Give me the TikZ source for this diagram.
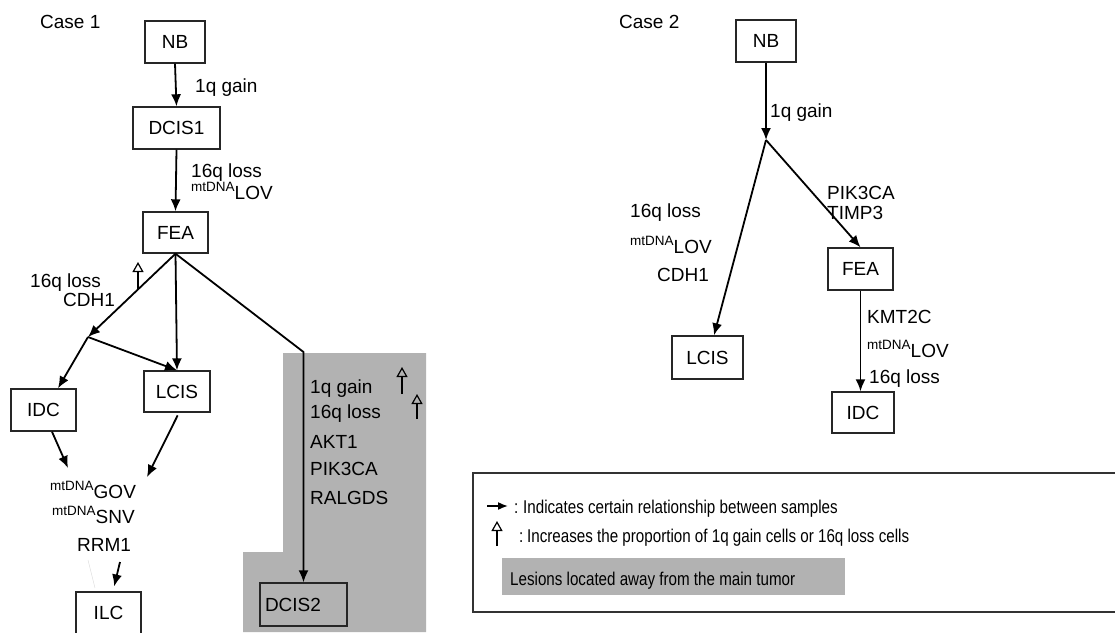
\documentclass[tikz,border=0pt]{standalone}
\usepackage{fontspec}
\setmainfont{Liberation Sans}
\newfontfamily\legfont{Liberation Sans}[FakeStretch=0.82]
\usetikzlibrary{arrows.meta,calc}
\newcommand\mtsup[1]{\raisebox{0.42em}{\fontsize{13.5}{13.5}\selectfont mtDNA}#1}
\begin{document}
\begin{tikzpicture}[x=1pt,y=-1pt,
  box/.style={draw=black!85, line width=1.4pt, minimum height=42pt, inner sep=0pt, font=\fontsize{19}{19}\selectfont},
  lab/.style={inner sep=0pt, anchor=base west, font=\fontsize{19}{19}\selectfont},
  arr/.style={line width=1.8pt, -{Latex[length=12pt,width=10pt]}},
  uparr/.style={line width=1.2pt, -{Triangle[open,length=10pt,width=11pt,line width=1.2pt]}},
  leg/.style={inner sep=0pt, anchor=base west, font=\legfont\fontsize{18.5}{18.5}\selectfont},
  grayzone/.style={fill=black!30}]
\useasboundingbox (0,0) rectangle (1115,632);

% ---------- Case 1 ----------
\fill[grayzone] (283,353) -- (426,353) -- (426,632) -- (243,632) -- (243,552) -- (283,552) -- cycle;

\node[lab] (case1) at (40,28) {Case 1};
\node[box, minimum width=60pt] (NB1) at (175,42) {NB};
\node[box, minimum width=87pt] (DCIS1) at (176.5,128) {DCIS1};
\node[box, minimum width=65pt, minimum height=41pt] (FEA1) at (175.5,232.5) {FEA};
\node[box, minimum width=65pt] (IDC1) at (43.5,410) {IDC};
\node[box, minimum width=66pt, minimum height=41pt] (LCIS1) at (177,391.5) {LCIS};
\node[box, minimum width=65pt] (ILC1) at (108.5,613) {ILC};
\node[box, minimum width=87pt, minimum height=43pt, inner xsep=5pt, text width=77pt, align=left] (DCIS2) at (303.5,604.5) {DCIS2};

\node[lab] (l1) at (195,92) {1q gain};
\node[lab] (l2) at (191,177) {16q loss};
\node[lab] (l3) at (191,199) {\mtsup{LOV}};
\node[lab] (l4) at (30,287) {16q loss};
\node[lab] (l5) at (63,306) {CDH1};
\node[lab] (l6) at (50,498) {\mtsup{GOV}};
\node[lab] (l7) at (52,523) {\mtsup{SNV}};
\node[lab] (l8) at (77,551) {RRM1};
\node[lab] (g1) at (310,393) {1q gain};
\node[lab] (g2) at (310,418) {16q loss};
\node[lab] (g3) at (310,448) {AKT1};
\node[lab] (g4) at (310,475) {PIK3CA};
\node[lab] (g5) at (310,504) {RALGDS};

\coordinate (J1) at (88,337);
\coordinate (K1) at (303.5,352);
\coordinate (e1) at (68,468);
\coordinate (e2) at (147,477);
\coordinate (r1) at (120,562);
\draw[arr] (NB1.south) -- (DCIS1.north);
\draw[arr] (DCIS1.south) -- (FEA1.north);
\draw[arr] (FEA1.south) -- (J1);
\draw[arr] (J1) -- ([xshift=14.5pt]IDC1.north);
\draw[arr] (J1) -- (LCIS1.north);
\draw[arr] (FEA1.south) -- (LCIS1.north);
\draw[arr] (FEA1.south) -- (K1) -- (DCIS2.north);
\draw[arr] ([xshift=8.5pt]IDC1.south) -- (e1);
\draw[arr, shorten <=3pt] ([xshift=2pt]LCIS1.south) -- (e2);
\draw[arr, shorten >=5pt] (r1) -- ([xshift=4.5pt]ILC1.north);
\draw[black!12, line width=0.5pt] (88,560) -- (95,588);

\coordinate (u1a) at (138,289); \coordinate (u1b) at (138,262);
\coordinate (u2a) at (402,394); \coordinate (u2b) at (402,367);
\coordinate (u3a) at (417,419); \coordinate (u3b) at (417,394);
\draw[uparr] (u1a) -- (u1b);
\draw[uparr] (u2a) -- (u2b);
\draw[uparr] (u3a) -- (u3b);

% ---------- Case 2 ----------
\node[lab] (case2) at (619,28) {Case 2};
\node[box, minimum width=60pt] (NB2) at (766,41) {NB};
\node[box, minimum width=71pt, minimum height=43pt] (LCIS2) at (707.5,357.5) {LCIS};
\node[box, minimum width=65pt] (FEA2) at (860.5,269) {FEA};
\node[box, minimum width=62pt, minimum height=41pt] (IDC2) at (863,412.5) {IDC};

\node[lab] (m1) at (770,117) {1q gain};
\node[lab] (m2) at (827,199) {PIK3CA};
\node[lab] (m3) at (827,219) {TIMP3};
\node[lab] (m4) at (630,217) {16q loss};
\node[lab] (m5) at (630,253) {\mtsup{LOV}};
\node[lab] (m6) at (657,281) {CDH1};
\node[lab] (m7) at (867,323) {KMT2C};
\node[lab] (m8) at (867,357) {\mtsup{LOV}};
\node[lab] (m9) at (869,383) {16q loss};

\coordinate (J2) at (766,140);
\draw[arr] (NB2.south) -- (J2);
\draw[arr] (J2) -- ([xshift=6.5pt]LCIS2.north);
\draw[arr] (J2) -- (FEA2.north);
\draw[arr] (FEA2.south) -- (FEA2.south |- IDC2.north);

% ---------- Legend ----------
\draw[black!80, line width=1.8pt] (473,473) rectangle (1122,612);
\coordinate (la) at (487,506); \coordinate (lb) at (508,506);
\draw[line width=1.6pt, -{Latex[length=10pt,width=8pt]}] (la) -- (lb);
\node[leg] (t1c) at (514,513) {:};
\node[leg] (t1) at (523,513) {Indicates certain relationship between samples};
\coordinate (lc) at (497,546); \coordinate (ld) at (497,521);
\draw[uparr] (lc) -- (ld);
\node[leg] (t2c) at (519,542) {:};
\node[leg] (t2) at (527,542) {Increases the proportion of 1q gain cells or 16q loss cells};
\fill[grayzone] (502,558) rectangle (845,595);
\node[leg] (t3) at (510,585) {Lesions located away from the main tumor};
\end{tikzpicture}
\end{document}
